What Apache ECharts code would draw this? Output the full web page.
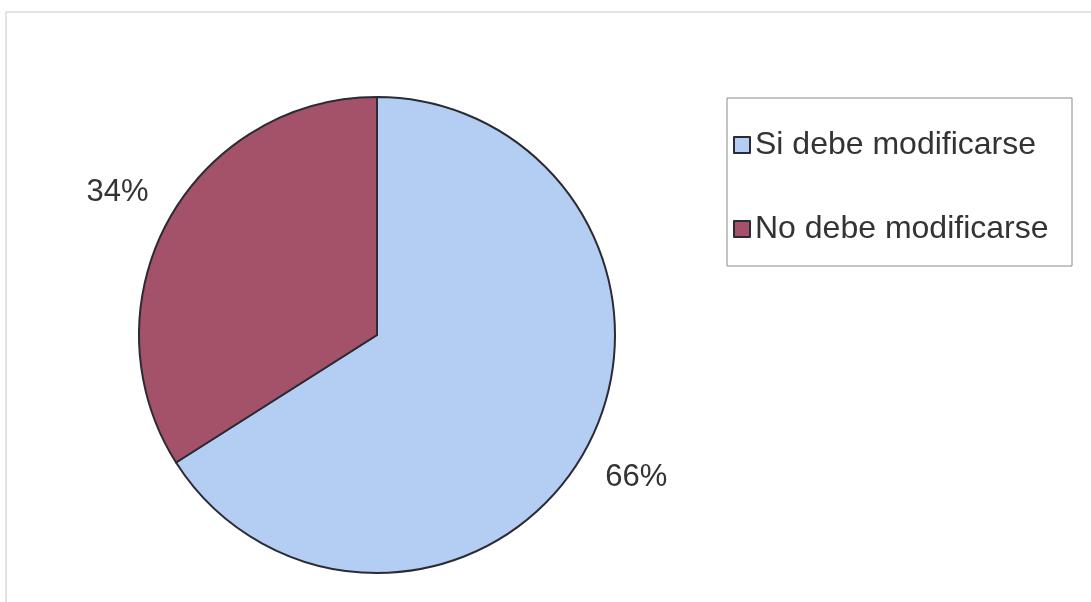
<!DOCTYPE html>
<html>
<head>
<meta charset="utf-8">
<script src="https://cdn.jsdelivr.net/npm/echarts@6/dist/echarts.min.js"></script>
<style>
html,body{margin:0;padding:0;background:#fff;}
#chart{width:1091px;height:602px;}
</style>
</head>
<body>
<div id="chart"></div>
<script>
const categories = ['Si debe modificarse', 'No debe modificarse'];
const values = [66, 34];
const colors = ['#b3cdf3', '#a3526a'];

const chart = echarts.init(document.getElementById('chart'));
const pieData = categories.map((c, i) => ({ name: c, value: values[i], itemStyle: { color: colors[i] } }));
const labelData = categories.map((c, i) => ({ name: c, value: values[i] }));

chart.setOption({
  backgroundColor: '#fff',
  animation: false,
  textStyle: { fontFamily: 'Liberation Sans, Arial, sans-serif' },
  graphic: [
    { type: 'rect', shape: { x: 6, y: 12, width: 1100, height: 600 }, style: { fill: 'none', stroke: '#dcdcdc', lineWidth: 1.5 }, z: -10 },
    { type: 'rect', shape: { x: 727, y: 98, width: 345, height: 168 }, style: { fill: '#fff', stroke: '#8a8a8a', lineWidth: 1 }, z: -5 }
  ],
  legend: {
    orient: 'vertical',
    left: 728,
    top: 124,
    itemGap: 52,
    itemWidth: 16,
    itemHeight: 16,
    icon: 'rect',
    data: categories,
    textStyle: { fontSize: 32, color: '#333', fontFamily: 'Liberation Sans, Arial, sans-serif' }
  },
  series: [
    {
      type: 'pie',
      center: [377, 335],
      radius: [0, 238],
      startAngle: 90,
      clockwise: true,
      silent: true,
      label: { show: false },
      labelLine: { show: false },
      itemStyle: { borderColor: '#2b2b35', borderWidth: 2 },
      data: pieData
    },
    {
      type: 'pie',
      center: [377, 335],
      radius: [282, 304],
      startAngle: 90,
      clockwise: true,
      silent: true,
      legendHoverLink: false,
      itemStyle: { color: 'rgba(0,0,0,0)', borderWidth: 0 },
      label: {
        show: true,
        position: 'inside',
        formatter: p => p.value + '%',
        fontSize: 31,
        color: '#333',
        fontFamily: 'Liberation Sans, Arial, sans-serif'
      },
      labelLine: { show: false },
      data: labelData
    }
  ]
});
</script>
</body>
</html>
